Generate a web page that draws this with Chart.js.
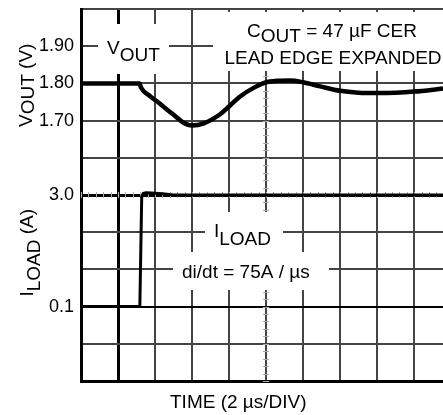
<!DOCTYPE html>
<html>
<head>
<meta charset="utf-8">
<script src="https://cdn.jsdelivr.net/npm/chart.js@4.4.0/dist/chart.umd.min.js"></script>
<style>
  html, body { margin: 0; padding: 0; background: #fff; }
  #wrap { width: 443px; height: 415px; }
</style>
</head>
<body>
<div id="wrap"><canvas id="scope"></canvas></div>
<script>
// Load step transient, scope capture. Time in µs (2 µs per division)

// ----- data -----
const voutTime  = [0, 1, 2, 3.16, 3.24, 3.72, 4.2, 4.64, 5.1, 5.52, 6.0, 6.6, 7.52, 8.0, 8.6, 9.4, 10.0, 10.6, 11.3, 12.0, 12.92, 14.0, 15.0, 16.0, 17.0, 18.0, 19.56];
const voutVolts = [1.80, 1.80, 1.80, 1.80, 1.789, 1.766, 1.748, 1.730, 1.712, 1.695, 1.687, 1.692, 1.717, 1.738, 1.765, 1.790, 1.803, 1.807, 1.808, 1.803, 1.792, 1.780, 1.775, 1.774, 1.775, 1.778, 1.786];

const iloadTime = [0, 3.18, 3.28, 3.36, 3.5, 3.8, 4.4, 5.0, 19.56];
const iloadAmps = [0.1, 0.1, 2.95, 3.04, 3.06, 3.05, 3.03, 3.0, 3.0];

// tick labels shown on the left
const voutTicks  = [1.90, 1.80, 1.70];
const iloadTicks = [3.0, 0.1];

// axis extents
const timeMax = 19.56;
const timeStep = 2;
const voutMin = 1.0, voutMax = 2.0, voutStep = 0.1;
// ILOAD: 3 divisions between the two labels, 5 above and 2 below
const iloadDiv = (iloadTicks[0] - iloadTicks[1]) / 3;
const iloadMin = iloadTicks[1] - 2 * iloadDiv;
const iloadMax = iloadTicks[0] + 5 * iloadDiv;

const FONT = "'Liberation Sans', Arial, Helvetica, sans-serif";

// ----- text helpers (labels with subscripts) -----
function partsWidth(ctx, parts) {
  return parts.reduce((w, p) => w + ctx.measureText(p.t).width, 0);
}
function drawParts(ctx, parts, x, y, subShift) {
  parts.forEach(p => {
    ctx.fillText(p.t, x, p.sub ? y + subShift : y);
    x += ctx.measureText(p.t).width;
  });
}

// white boxes + annotation text drawn over the grid
const annotations = {
  id: 'annotations',
  afterDatasetsDraw(chart) {
    const { ctx, chartArea: a } = chart;
    const ys = chart.scales.y2;
    const L = a.left, T = a.top;
    ctx.save();

    // masks
    ctx.fillStyle = '#fff';
    ctx.fillRect(L + 17, T + 15, 71, 50);     // VOUT
    ctx.fillRect(L + 132, T + 3, 240, 59);    // COUT / LEAD EDGE
    ctx.fillRect(L + 124, T + 203, 78, 42);   // ILOAD
    ctx.fillRect(L + 92, T + 243, 156, 38);   // di/dt

    ctx.fillStyle = '#000';
    ctx.font = '19px ' + FONT;
    ctx.textBaseline = 'alphabetic';
    ctx.textAlign = 'left';

    drawParts(ctx, [{ t: 'V' }, { t: 'OUT', sub: true }], L + 26, T + 45, 7);

    const cout = [{ t: 'C' }, { t: 'OUT', sub: true }, { t: ' = 47 µF CER' }];
    drawParts(ctx, cout, L + 251 - partsWidth(ctx, cout) / 2, T + 28, 5);
    const lead = 'LEAD EDGE EXPANDED';
    ctx.fillText(lead, L + 252 - ctx.measureText(lead).width / 2, T + 55);

    drawParts(ctx, [{ t: 'I' }, { t: 'LOAD', sub: true }], L + 133, T + 228, 8);
    ctx.fillText('di/dt = 75A / µs', L + 101, T + 269);

    // x title
    ctx.fillText('TIME (2 µs/DIV)', L + 89, a.bottom + 27);

    // ILOAD tick labels
    ctx.font = '18px ' + FONT;
    ctx.textAlign = 'right';
    ctx.textBaseline = 'middle';
    iloadTicks.forEach(v => ctx.fillText(v.toFixed(1), L - 7, ys.getPixelForValue(v)));

    // rotated axis titles
    ctx.font = '19px ' + FONT;
    ctx.textAlign = 'left';
    ctx.textBaseline = 'alphabetic';
    const vt = [{ t: 'V' }, { t: 'OUT', sub: true }, { t: ' (V)' }];
    ctx.save();
    ctx.translate(32, chart.scales.y.getPixelForValue(1.795));
    ctx.rotate(-Math.PI / 2);
    drawParts(ctx, vt, -partsWidth(ctx, vt) / 2, 0, 2);
    ctx.restore();

    const it = [{ t: 'I' }, { t: 'LOAD', sub: true }, { t: ' (A)' }];
    ctx.save();
    ctx.translate(33, ys.getPixelForValue(1.5));
    ctx.rotate(-Math.PI / 2);
    drawParts(ctx, it, -partsWidth(ctx, it) / 2, 0, 7);
    ctx.restore();

    ctx.restore();
  }
};

// small minor ticks on the centre graticule lines
const minorTicks = {
  id: 'minorTicks',
  beforeDatasetsDraw(chart) {
    const { ctx } = chart;
    const xs = chart.scales.x, ys = chart.scales.y;
    ctx.save();
    ctx.strokeStyle = '#aaa';
    ctx.lineWidth = 1;
    ctx.beginPath();
    const yc = Math.round(ys.getPixelForValue(1.5));
    for (let t = 0; t <= timeMax; t += timeStep / 5) {
      const px = Math.round(xs.getPixelForValue(t)) + 0.5;
      ctx.moveTo(px, yc - 3); ctx.lineTo(px, yc + 3);
    }
    const xc = Math.round(xs.getPixelForValue(10));
    for (let v = voutMin; v <= voutMax; v += voutStep / 5) {
      const py = Math.round(ys.getPixelForValue(v)) + 0.5;
      ctx.moveTo(xc - 3, py); ctx.lineTo(xc + 3, py);
    }
    ctx.stroke();
    ctx.restore();
  }
};

const ctx = document.getElementById('scope').getContext('2d');
new Chart(ctx, {
  type: 'line',
  data: {
    datasets: [
      {
        label: 'VOUT',
        data: voutTime.map((t, i) => ({ x: t, y: voutVolts[i] })),
        yAxisID: 'y',
        borderColor: '#000',
        borderWidth: 4.5,
        pointRadius: 0,
        cubicInterpolationMode: 'monotone'
      },
      {
        label: 'ILOAD',
        data: iloadTime.map((t, i) => ({ x: t, y: iloadAmps[i] })),
        yAxisID: 'y2',
        borderColor: '#000',
        borderWidth: 3,
        pointRadius: 0,
        tension: 0
      }
    ]
  },
  options: {
    responsive: true,
    maintainAspectRatio: false,
    devicePixelRatio: 1,
    animation: false,
    layout: { padding: { top: 9, left: 0, right: 0, bottom: 0 } },
    plugins: { legend: { display: false }, tooltip: { enabled: false } },
    scales: {
      x: {
        type: 'linear',
        min: 0,
        max: timeMax,
        ticks: { display: false, stepSize: timeStep, includeBounds: false },
        grid: {
          drawTicks: false,
          color: c => c.index <= 1 ? '#000' : '#444',
          lineWidth: c => c.index <= 1 ? 3 : 2
        },
        border: { display: true, color: '#000', width: 3 },
        afterFit: s => { s.height = 34; s.paddingLeft = 0; s.paddingRight = 0; }
      },
      y: {
        min: voutMin,
        max: voutMax,
        ticks: {
          stepSize: voutStep,
          padding: 7,
          color: '#000',
          font: { family: FONT, size: 18 },
          callback: v => voutTicks.some(t => Math.abs(t - v) < 1e-6) ? v.toFixed(2) : ''
        },
        grid: {
          drawTicks: false,
          color: c => (c.index === 0 || c.index === 5 || c.index === 2) ? '#000' : '#444',
          lineWidth: c => (c.index === 0 || c.index === 5) ? 3 : 2
        },
        border: { display: true, color: '#000', width: 3 },
        afterFit: s => { s.width = 81; s.paddingTop = 0; s.paddingBottom = 0; }
      },
      y2: {
        display: false,
        min: iloadMin,
        max: iloadMax
      }
    }
  },
  plugins: [minorTicks, annotations]
});
</script>
</body>
</html>
